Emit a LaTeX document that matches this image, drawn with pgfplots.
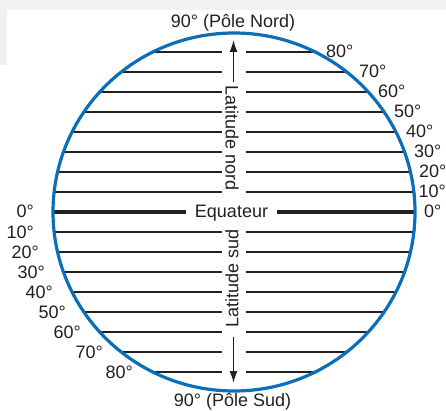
\documentclass[border=0pt]{standalone}
\usepackage{pgfplots}
\pgfplotsset{compat=1.18}
\usepackage{fontspec}
\setmainfont{Liberation Sans}
\usetikzlibrary{arrows.meta}
\definecolor{globeblue}{HTML}{0A6FB8}
\definecolor{ink}{HTML}{231F20}
\definecolor{bg}{HTML}{F1F1F1}
\begin{document}
\begin{tikzpicture}[x=1pt,y=1pt]
\begin{axis}[name=ax, scale only axis, width=446pt, height=411pt,
  xmin=0, xmax=446, ymin=0, ymax=411, y dir=reverse, hide axis, clip=false,
  unbounded coords=jump]
\fill[bg] (axis cs:0,0) rectangle (axis cs:446,10);
\fill[bg] (axis cs:0,10) rectangle (axis cs:7,65);
% parallels (north and south), gap in the middle for the labels
\addplot[ink, line width=1.4pt] coordinates {
(54.1,192) (222,192) (nan,nan) (246,192) (413.9,192) (nan,nan)
(57.6,172) (222,172) (nan,nan) (246,172) (410.4,172) (nan,nan)
(63.5,152) (222,152) (nan,nan) (246,152) (404.5,152) (nan,nan)
(72.1,132) (222,132) (nan,nan) (246,132) (395.9,132) (nan,nan)
(83.9,112) (222,112) (nan,nan) (246,112) (384.1,112) (nan,nan)
(99.7,92) (222,92) (nan,nan) (246,92) (368.3,92) (nan,nan)
(121.2,72) (222,72) (nan,nan) (246,72) (346.8,72) (nan,nan)
(152.8,52) (222,52) (nan,nan) (246,52) (315.2,52) (nan,nan)
(54.1,232) (222,232) (nan,nan) (246,232) (413.9,232) (nan,nan)
(57.6,252) (222,252) (nan,nan) (246,252) (410.4,252) (nan,nan)
(63.5,272) (222,272) (nan,nan) (246,272) (404.5,272) (nan,nan)
(72.1,292) (222,292) (nan,nan) (246,292) (395.9,292) (nan,nan)
(83.9,312) (222,312) (nan,nan) (246,312) (384.1,312) (nan,nan)
(99.7,332) (222,332) (nan,nan) (246,332) (368.3,332) (nan,nan)
(121.2,352) (222,352) (nan,nan) (246,352) (346.8,352) (nan,nan)
(152.8,372) (222,372) (nan,nan) (246,372) (315.2,372)
};
% equator
\addplot[ink, line width=4pt] coordinates {(53,212) (186,212) (nan,nan) (277,212) (415,212)};
% globe outline
\draw[globeblue, line width=3.2pt] (axis cs:234,212) ellipse [x radius=181, y radius=179];
% arrows
\draw[ink, line width=1.5pt, -{Latex[length=12pt, width=8pt]}] (axis cs:233.5,82) -- (axis cs:233.5,40);
\draw[ink, line width=1.5pt, -{Latex[length=12pt, width=8pt]}] (axis cs:233.5,337) -- (axis cs:233.5,383);
% texts
\begin{scope}[every node/.style={text=ink, font=\fontsize{18}{20}\selectfont, inner sep=0pt}]
\node[anchor=base] at (axis cs:233,28) {90° (Pôle Nord)};
\node[anchor=base] at (axis cs:232.5,406.5) {90° (Pôle Sud)};
\node[anchor=base] at (axis cs:231.5,218) {Equateur};
\node[rotate=-90] at (axis cs:232,138) {Latitude nord};
\node[rotate=90] at (axis cs:232,278) {Latitude sud};
\node[anchor=base west] at (axis cs:326,58) {80°};
\node[anchor=base west] at (axis cs:359,78) {70°};
\node[anchor=base west] at (axis cs:378,98) {60°};
\node[anchor=base west] at (axis cs:394,118) {50°};
\node[anchor=base west] at (axis cs:406,138) {40°};
\node[anchor=base west] at (axis cs:414,158) {30°};
\node[anchor=base west] at (axis cs:419,178) {20°};
\node[anchor=base west] at (axis cs:418.5,198) {10°};
\node[anchor=base west] at (axis cs:424,218) {0°};
\node[anchor=base east] at (axis cs:34,218) {0°};
\node[anchor=base east] at (axis cs:34,238) {10°};
\node[anchor=base east] at (axis cs:39,258) {20°};
\node[anchor=base east] at (axis cs:45,278) {30°};
\node[anchor=base east] at (axis cs:53,298) {40°};
\node[anchor=base east] at (axis cs:66,318) {50°};
\node[anchor=base east] at (axis cs:81,338) {60°};
\node[anchor=base east] at (axis cs:103,358) {70°};
\node[anchor=base east] at (axis cs:133,378) {80°};
\end{scope}
\end{axis}
\pgfresetboundingbox
\useasboundingbox (ax.south west) rectangle (ax.north east);
\end{tikzpicture}
\end{document}
